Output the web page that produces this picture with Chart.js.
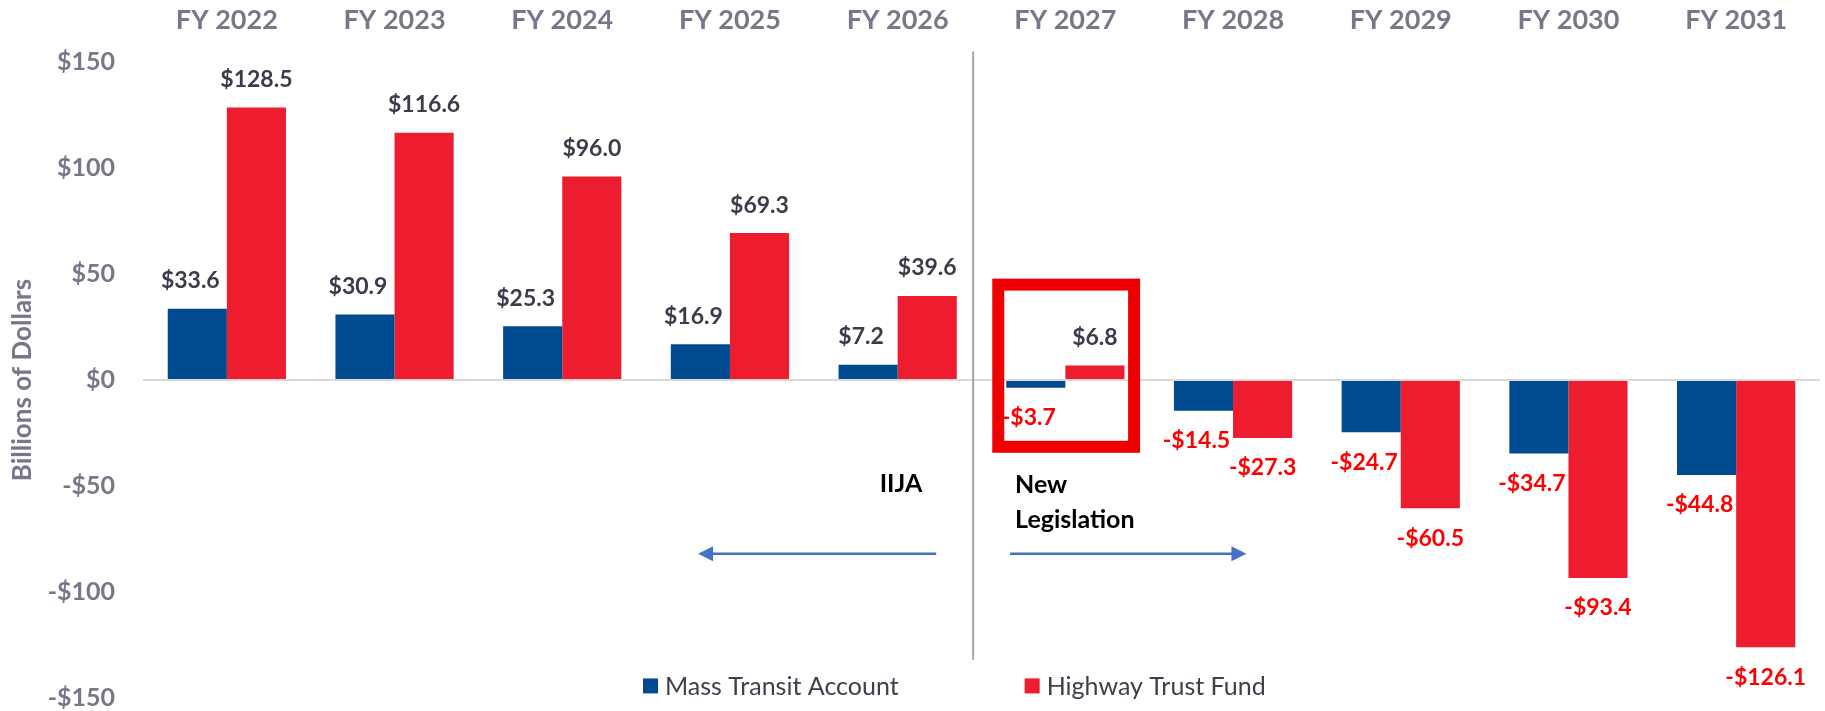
<!DOCTYPE html>
<html>
<head>
<meta charset="utf-8">
<title>Highway Trust Fund balances</title>
<script src="https://cdn.jsdelivr.net/npm/chart.js@4.4.1/dist/chart.umd.min.js"></script>
<style>
  html, body { margin: 0; padding: 0; background: #fff; }
  #wrap { width: 1825px; height: 711px; position: relative; }
</style>
</head>
<body>
<div id="wrap"><canvas id="myChart"></canvas></div>
<script>
  // data, billions of dollars
  const categories = ['FY 2022', 'FY 2023', 'FY 2024', 'FY 2025', 'FY 2026',
    'FY 2027', 'FY 2028', 'FY 2029', 'FY 2030', 'FY 2031']
  const massTransit = [33.6, 30.9, 25.3, 16.9, 7.2, -3.7, -14.5, -24.7, -34.7, -44.8]
  const highwayTrust = [128.5, 116.6, 96.0, 69.3, 39.6, 6.8, -27.3, -60.5, -93.4, -126.1]
  const yTicks = [-150, -100, -50, 0, 50, 100, 150]

  const BLUE = '#004a8f'
  const RED = '#ed1c2e'
  const AXIS_GRAY = '#77778a'
  const FONT = 'Lato'

  function money(v, digits) {
    const s = '$' + Math.abs(v).toFixed(digits)
    return v < 0 ? '-' + s : s
  }

  function arrow(ctx, x1, x2, y) {
    // line from x1 to x2, head at x2
    const dir = x2 > x1 ? 1 : -1
    ctx.strokeStyle = '#4472c4'
    ctx.fillStyle = '#4472c4'
    ctx.lineWidth = 2.5
    ctx.beginPath()
    ctx.moveTo(x1, y)
    ctx.lineTo(x2 - dir * 12, y)
    ctx.stroke()
    ctx.beginPath()
    ctx.moveTo(x2, y)
    ctx.lineTo(x2 - dir * 15, y - 7.5)
    ctx.lineTo(x2 - dir * 15, y + 7.5)
    ctx.closePath()
    ctx.fill()
  }

  const extras = {
    id: 'extras',
    afterDatasetsDraw(chart) {
      const ctx = chart.ctx
      const xs = chart.scales.x
      const ys = chart.scales.y
      const area = chart.chartArea
      ctx.save()

      // value labels
      ctx.textAlign = 'center'
      ctx.textBaseline = 'middle'
      ctx.font = 'bold 23px ' + FONT
      chart.data.datasets.forEach((ds, i) => {
        const meta = chart.getDatasetMeta(i)
        meta.data.forEach((bar, j) => {
          const v = ds.data[j]
          const dx = i === 0 ? -7 : 0
          ctx.fillStyle = v < 0 ? '#ff0000' : '#3b3b4b'
          const y = v < 0 ? bar.y + 30 : bar.y - 28
          ctx.fillText(money(v, 1), bar.x + dx, y)
        })
      })

      // IIJA / new legislation divider
      const divX = xs.getPixelForValue(4.45)
      ctx.strokeStyle = '#a6a6a6'
      ctx.lineWidth = 2
      ctx.beginPath()
      ctx.moveTo(divX, ys.getPixelForValue(155))
      ctx.lineTo(divX, ys.getPixelForValue(-132))
      ctx.stroke()

      // highlight box round FY 2027
      ctx.strokeStyle = '#ee0000'
      ctx.lineWidth = 12
      const bx1 = xs.getPixelForValue(4.6)
      const bx2 = xs.getPixelForValue(5.41)
      const by1 = ys.getPixelForValue(45)
      const by2 = ys.getPixelForValue(-31.5)
      ctx.strokeRect(bx1, by1, bx2 - bx1, by2 - by1)

      // period notes
      ctx.fillStyle = '#000'
      ctx.font = 'bold 25px ' + FONT
      ctx.textAlign = 'center'
      ctx.fillText('IIJA', xs.getPixelForValue(4.02), ys.getPixelForValue(-49))
      ctx.textAlign = 'left'
      ctx.fillText('New', xs.getPixelForValue(4.7), ys.getPixelForValue(-49.5))
      ctx.fillText('Legislation', xs.getPixelForValue(4.7), ys.getPixelForValue(-66))

      const arrowY = ys.getPixelForValue(-82)
      arrow(ctx, xs.getPixelForValue(4.23), xs.getPixelForValue(2.81), arrowY)
      arrow(ctx, xs.getPixelForValue(4.67), xs.getPixelForValue(6.08), arrowY)

      // legend, drawn inside the plot
      ctx.font = '25px ' + FONT
      ctx.textAlign = 'left'
      const ly = ys.getPixelForValue(-144.3)
      let lx = area.left + 500
      chart.data.datasets.forEach(ds => {
        ctx.fillStyle = ds.backgroundColor
        ctx.fillRect(lx, ly - 7.5, 15, 15)
        ctx.fillStyle = '#3e3e4c'
        ctx.fillText(ds.label, lx + 22, ly + 1)
        lx += 22 + ctx.measureText(ds.label).width + 126
      })

      ctx.restore()
    }
  }

  const ctx = document.getElementById('myChart')
  const myChart = new Chart(ctx, {
    type: 'bar',
    data: {
      labels: categories,
      datasets: [{
        label: 'Mass Transit Account',
        data: massTransit,
        backgroundColor: BLUE
      }, {
        label: 'Highway Trust Fund',
        data: highwayTrust,
        backgroundColor: RED
      }]
    },
    options: {
      responsive: true,
      maintainAspectRatio: false,
      animation: false,
      barPercentage: 1,
      categoryPercentage: 0.705,
      layout: {
        padding: { top: 4, right: 5, bottom: 0, left: 0 }
      },
      scales: {
        x: {
          position: 'top',
          afterFit: scale => {
            scale.height = 58
          },
          grid: { display: false, drawTicks: false },
          border: { display: false },
          ticks: {
            color: AXIS_GRAY,
            padding: 26,
            font: { family: FONT, size: 27, weight: 'bold' }
          }
        },
        y: {
          min: -150,
          max: 150,
          afterBuildTicks: scale => {
            scale.ticks = yTicks.map(v => ({ value: v }))
          },
          afterFit: scale => {
            scale.width = 143
            // labels sit in the side margin, keep plot edges tight
            scale.paddingTop = 0
            scale.paddingBottom = 13
          },
          grid: {
            drawTicks: false,
            lineWidth: 2,
            color: c => c.tick && c.tick.value === 0 ? '#d9d9d9' : 'transparent'
          },
          border: { display: false },
          ticks: {
            color: AXIS_GRAY,
            padding: 28,
            font: { family: FONT, size: 25, weight: 'bold', lineHeight: 1 },
            callback: v => money(v, 0)
          },
          title: {
            display: true,
            text: 'Billions of Dollars',
            color: AXIS_GRAY,
            padding: { top: 7, bottom: 0 },
            font: { family: FONT, size: 26, weight: 'bold' }
          }
        }
      },
      plugins: {
        legend: { display: false },
        tooltip: { enabled: false }
      }
    },
    plugins: [extras]
  })
</script>
</body>
</html>
